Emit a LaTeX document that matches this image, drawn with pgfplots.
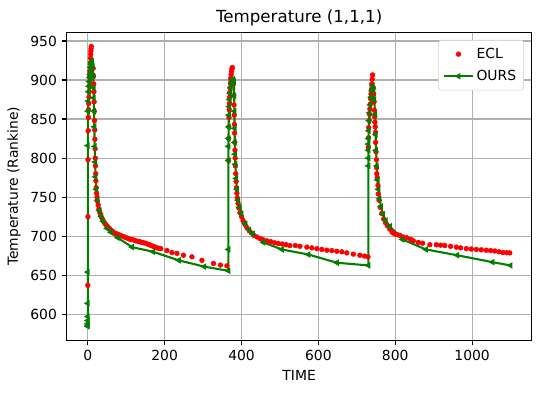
\documentclass[border=0pt]{standalone}
\usepackage{pgfplots}
\pgfplotsset{compat=1.18}
\usepackage{fontspec}
\setmainfont{DejaVu Sans}
\definecolor{mplred}{HTML}{FF0000}
\definecolor{mplgreen}{HTML}{008000}
\definecolor{gridgray}{HTML}{B0B0B0}
\begin{document}
\begin{tikzpicture}
\begin{axis}[
  scale only axis,
  width=334.8pt, height=221.8pt,
  xmin=-55, xmax=1155, ymin=566.5, ymax=961,
  xtick={0,200,...,1000}, ytick={600,650,...,950},
  tick pos=left, tick align=outside,
  major tick length=3.5pt,
  every tick/.style={black, line width=0.8pt},
  axis line style={line width=0.8pt},
  grid=major,
  major grid style={gridgray, line width=0.8pt},
  /pgf/number format/assume math mode=true,
  /pgf/number format/1000 sep={},
  ticklabel style={font=\fontsize{10}{12}\selectfont},
  label style={font=\fontsize{10}{12}\selectfont},
  title style={font=\fontsize{12}{14}\selectfont, yshift=-5pt},
  title={Temperature (1,1,1)},
  xlabel={TIME},
  ylabel={Temperature (Rankine)},
  legend style={at={(1,1)}, anchor=north east, xshift=-5.5pt, yshift=-5.5pt,
    draw=gray!35, rounded corners=2pt, font=\fontsize{10}{12}\selectfont,
    inner sep=3.5pt, row sep=3pt},
  legend cell align=left,
]
\addplot[only marks, mark=*, mark size=1.7pt, color=mplred,
  legend image code/.code={\draw plot[mark=*] coordinates {(0.36cm,0cm)};}] coordinates {
(0,637)(0.3,725)(0.6,798)(1,835)(1.5,852)(2,862)(2.5,870)(3,878)(3.5,885)(4,892)(4.5,898)(5,904)(5.5,910)(6,916)(6.5,922)(7,928)(7.5,933)(8,937)(8.5,940)(9,943)
(14,915)(15,905)(15.5,895)(16,885)(16.5,872)(17,860)(17.5,848)(18,836)(18.5,824)(19,812)(19.5,800)(20,790)(20.5,780)(21,771)(22,762)(23,755)(24,750)(25,745)(27,740)(29,735)(31,731)(33,728)(36,724)(39,721)(42,718)(45,716)(48,714)(52,712)(56,710)(60,708)(65,706)(70,704)(75,703)(80,702)(85,701)(90,700)(95,699)(100,698)(105,697)(110,696)(115,695.5)(120,695)(125,694)(130,693.5)(135,693)(140,692)(145,691.5)(150,691)(155,690)(160,689)(165,688)(170,687)(175,686)(180,685)(185,684.5)(190,684)(206,681.6)(219,679)(232,678)(249,675.6)(271,673.5)(297,669)(327,665)(345,663)(362,662)
(366,797)(366.5,825)(367,840)(367.5,852)(368,862)(368.5,870)(369,878)(369.5,884)(370,890)(371,896)(372,902)(373,907)(374,911)(375,914)(376,916)
(379,895)(380,880)(380.5,868)(381,855)(381.5,843)(382,832)(382.5,820)(383,810)(383.5,800)(384,790)(385,780)(386,770)(387,762)(388,755)(389,749)(391,742)(393,736)(396,730)(400,725)(404,720)(409,715)(414,711)(420,707)(426,704)(432,701)(440,699)(448,697)(456,695.5)(466,694)(476,693)(486,691.5)(496,690.5)(506,690)(516,689)(526,688)(540,688)(552,687)(570,686)(583,685)(596,684)(609,683)(622,682)(635,681.5)(648,680.7)(661,680)(674,678.6)(691,677)(708,675.6)(720,674.5)(729,673.5)
(730,814)(730.5,826)(731,839)(732,848)(733,856)(734,863)(735,869)(736,876)(737,882)(738,888)(739,895)(740,901)(741,906.5)
(743,890)(744,882)(745,872)(746,861)(746.5,853)(747,846)(748,840)(748.5,833)(749,820)(750,808)(751,798)(751.5,788)(752,780)(753,775)(755,765)(756,754)(758,746)(761,737)(765,729)(770,722)(775,717)(780,713)(786,709)(792,705)(798,703)(805,702)(812,701)(820,699)(830,698)(840,696)(847,694)(860,692)(871,691)(890,689)(907,689)(918,688.5)(929,688)(944,687)(959,686)(970,685)(985,684)(998,683.5)(1011,683)(1024,682.5)(1037,682)(1048,681.5)(1059,681)(1070,680)(1080,679)(1090,678.8)(1098,678.6)
};
\addlegendentry{ECL}
\addplot[color=mplgreen, line width=1.5pt, mark=triangle*, mark size=1.3pt, mark options={rotate=90, solid},
  legend image code/.code={\draw[mark repeat=2,mark phase=2] plot coordinates {(0cm,0cm) (0.36cm,0cm) (0.72cm,0cm)};}] coordinates {
(0,584.5)(0,586)(0,588)(0,592)(0,597)(0,614)(0,654)(0,816)(0.5,860)(1,873)(2,885)(3,892)(4,898)(5,903)(6,907)(7,912)(8,916)(9,920)(10,922)(11,924)(13,918)(14,905)(15,890)(15.6,877)(16,860)(17,840)(18,815)(19,795)(20,776)(22,760)(25,746)(30,733)(35,725)(40,719)(50,710)(60,705)(78,698)(115,686)(170,680)(237,669)(303,661)(366,655.6)
(366,683)(366,797)(366,815)(366,825)(366.5,840)(367,855)(368,866)(369,875)(370,883)(372,890)(374,895)(376,899)(378,901)(380,898)(381,880)(381.5,860)(382,838)(382.5,820)(383,805)(384,792)(386,774)(388,760)(391,746)(395,737)(400,729)(410,716)(420,708)(429.6,703)(457,692)(505,683)(574,676.5)(648,666)(730,662.5)
(730,790)(730,800)(730,810)(730,818)(730.5,825)(731,835)(732,848)(733,858)(735,868)(737,878)(739,886)(741,892.5)(743,888)(745,875)(748,856)(749,830)(750,810)(752,790)(754,772)(756,760)(759,748)(763,738)(768,728)(775,720)(786,712.6)(819,695.7)(880,683)(961,675.6)(1053,666.7)(1100,662.5)
};
\addlegendentry{OURS}
\end{axis}
\pgfresetboundingbox
\path[use as bounding box] ([xshift=-48pt,yshift=-38pt]current axis.south west) rectangle ([xshift=6pt,yshift=23.3pt]current axis.north east);
\end{tikzpicture}
\end{document}
